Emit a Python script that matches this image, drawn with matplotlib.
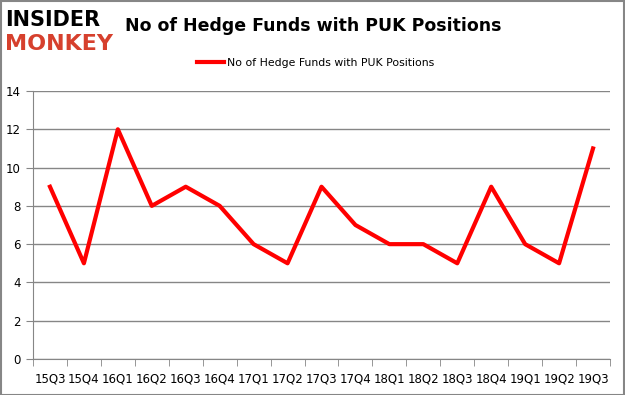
import numpy as np
import matplotlib.pyplot as plt

quarters = ["15Q3", "15Q4", "16Q1", "16Q2", "16Q3", "16Q4", "17Q1", "17Q2", "17Q3",
            "17Q4", "18Q1", "18Q2", "18Q3", "18Q4", "19Q1", "19Q2", "19Q3"]
funds = [9, 5, 12, 8, 9, 8, 6, 5, 9, 7, 6, 6, 5, 9, 6, 5, 11]
yticks = [0, 2, 4, 6, 8, 10, 12, 14]

fig = plt.figure(figsize=(6.25, 3.95), dpi=100)
ax = fig.add_axes([0.0528, 0.0911, 0.9232, 0.6785])

x = np.arange(len(quarters))
ax.plot(x, funds, color="#ff0000", linewidth=3, label="No of Hedge Funds with PUK Positions")

ax.set_xlim(-0.5, len(quarters) - 0.5)
ax.set_ylim(0, 14)
ax.set_yticks(yticks)
ax.set_xticks(x)
ax.set_xticklabels(quarters)
ax.set_xticks(np.arange(-0.5, len(quarters), 1), minor=True)
ax.tick_params(axis="x", which="major", length=0, pad=10, labelsize=8.5)
ax.tick_params(axis="x", which="minor", length=5, color="#868686")
ax.tick_params(axis="y", length=5, color="#868686", labelsize=8.5, pad=4)
ax.grid(axis="y", color="#868686", linewidth=1)
ax.set_axisbelow(True)
for s in ["top", "right"]:
    ax.spines[s].set_visible(False)
for s in ["left", "bottom"]:
    ax.spines[s].set_color("#868686")

ax.legend(loc="lower center", bbox_to_anchor=(0.49, 1.05), frameon=False,
          fontsize=7.8, handlelength=2.5, handletextpad=0.3)

fig.text(0.2, 0.934, "No of Hedge Funds with PUK Positions", fontsize=12.5,
         fontweight="bold", va="center", ha="left")
fig.text(0.008, 0.949, "INSIDER", fontsize=15, fontweight="bold", color="black",
         va="center", ha="left")
fig.text(0.008, 0.889, "MONKEY", fontsize=16, fontweight="bold", color="#d6402d",
         va="center", ha="left")

# gray frame round the whole picture
fig.patches.append(plt.Rectangle((0.001, 0.001), 0.997, 0.997, transform=fig.transFigure,
                                 fill=False, edgecolor="#868686", linewidth=1.5))

fig.savefig("out.png", dpi=100)
